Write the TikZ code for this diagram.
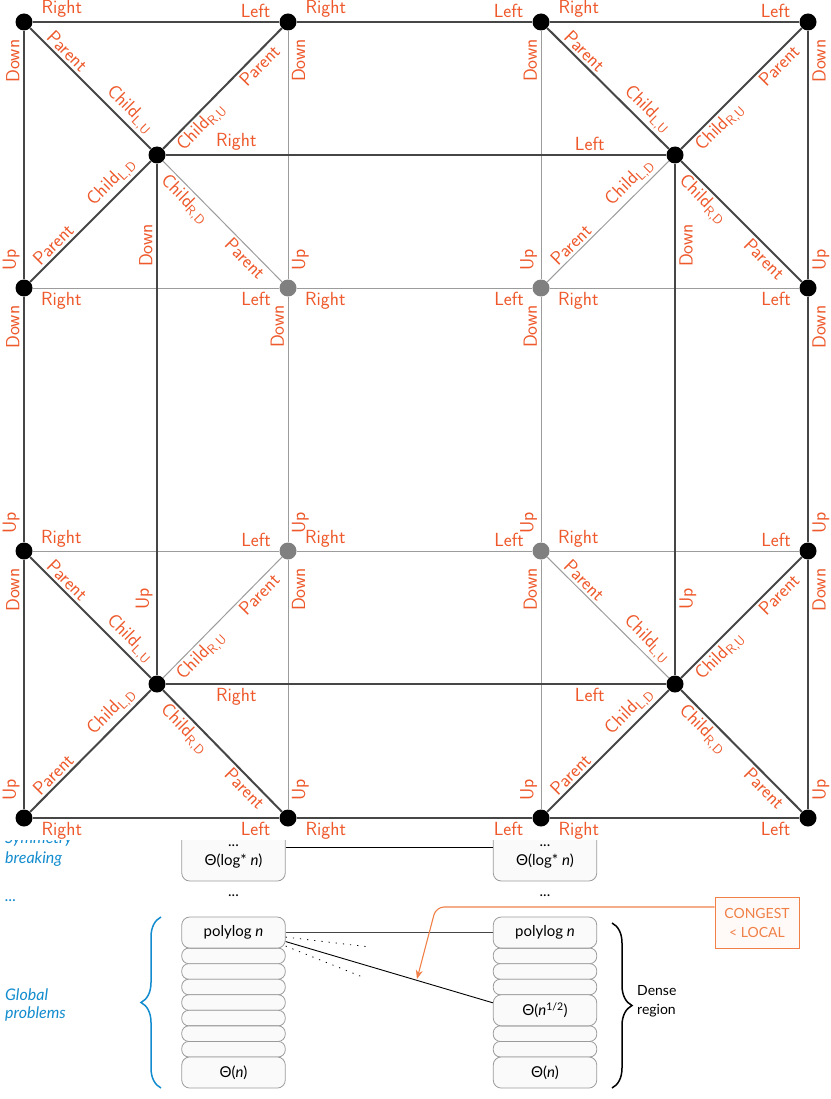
\documentclass[tikz,border=0pt]{standalone}
\usepackage{fontspec}
\newfontfamily\chartfont{Lato}
\usepackage{tikz}
\usetikzlibrary{arrows.meta,decorations.pathreplacing}

\definecolor{labred}{RGB}{238,88,42}
\definecolor{edgedark}{RGB}{70,70,70}
\definecolor{edgelight}{RGB}{156,156,156}
\definecolor{vgray}{RGB}{128,128,128}
\definecolor{probblue}{RGB}{18,140,206}
\definecolor{congorange}{RGB}{240,128,72}
\definecolor{congfill}{RGB}{255,250,247}
\definecolor{boxline}{RGB}{155,155,155}
\definecolor{boxfill}{RGB}{250,250,250}

\tikzset{
  vtx/.style={circle, fill=black, minimum size=17pt, inner sep=0pt},
  gvtx/.style={vtx, fill=vgray},
  dk/.style={draw=edgedark, line width=2pt},
  lt/.style={draw=edgelight, line width=1pt},
  lab/.style={text=labred, font=\sffamily\fontsize{19}{19}\selectfont,
              inner xsep=8pt, inner ysep=3.5pt},
  vlab/.style={lab, rotate=90},
  slab/.style={lab, sloped, inner xsep=2pt, inner ysep=2.5pt},
  grp/.style={text=probblue, font=\chartfont\itshape\fontsize{16}{19}\selectfont,
              anchor=base west, inner sep=0pt},
  bx/.style={draw=boxline, fill=boxfill, rounded corners=8pt, line width=0.8pt,
             minimum width=103.5pt, minimum height=31.1pt, inner sep=0pt,
             align=center, font=\chartfont\fontsize{15}{19}\selectfont},
  sbx/.style={bx, minimum height=15.55pt, rounded corners=7pt},
  txt/.style={font=\chartfont\fontsize{15}{19}\selectfont, inner sep=0pt},
  cg/.style={draw=congorange, fill=congfill, text=congorange, line width=1pt,
             minimum width=84pt, minimum height=51pt, inner sep=0pt, align=center,
             font=\chartfont\fontsize{14}{19}\selectfont},
  dotline/.style={black, line width=0.8pt, dash pattern=on 1.2pt off 6pt},
  brc/.style={line width=1.5pt, decorate, decoration={brace, amplitude=20pt}},
}

\begin{document}
\begin{tikzpicture}[x=1pt, y=-1pt]
  \useasboundingbox (0,0) rectangle (830,1099);

  % lower chart, half hidden behind the grid
  \node[grp] (sym1)  at (5, 843) {Symmetry};
  \node[grp] (sym2)  at (5, 863) {breaking};
  \node[grp] (gdots) at (5, 901) {...};
  \node[grp] (glob1) at (5,1000) {Global};
  \node[grp] (glob2) at (5,1018) {problems};

  \node[bx, minimum height=49pt] (lstar) at (233.5,856.5) {...\\Θ(log* \textit{n})};
  \node[bx, minimum height=49pt] (rstar) at (545,856.5) {...\\Θ(log* \textit{n})};
  \node[txt] (ldots) at (233.5,896) {...};
  \node[txt] (rdots) at (545,896) {...};

  \foreach \k in {1,...,7}
    \node[sbx] (lsm\k) at (233.5,{917+15.55*(1.5+\k)}) {};
  \foreach \k in {1,2,3,6,7}
    \node[sbx] (rsm\k) at (545,{917+15.55*(1.5+\k)}) {};
  \node[bx] (lpoly) at (233.5,932.55) {polylog \textit{n}};
  \node[bx] (ln)    at (233.5,1072.5) {Θ(\textit{n})};
  \node[bx] (rpoly) at (545,932.55) {polylog \textit{n}};
  \node[bx] (rhalf) at (545,1010.3) {Θ(\textit{n}\textsuperscript{1/2})};
  \node[bx] (rn)    at (545,1072.5) {Θ(\textit{n})};

  \draw[black, line width=0.8pt] ([yshift=34pt]lstar.south east) -- ([yshift=34pt]rstar.south west);
  \draw[edgedark, line width=1pt] (lpoly.east) -- (rpoly.west);
  \draw[black, line width=0.9pt] ([yshift=-9pt]lpoly.east) -- ([yshift=7.5pt]rhalf.west);
  \coordinate (dotA) at (370,947);
  \coordinate (dotB) at (365,978);
  \draw[dotline] ([yshift=-4.5pt]lpoly.east) -- (dotA);
  \draw[dotline] ([yshift=-13.5pt]lpoly.east) -- (dotB);

  \draw[brc, probblue] (161,1088) -- (161,917);
  \draw[brc, black] (612,923) -- (612,1088);
  \node[txt, anchor=west, align=left, font=\chartfont\fontsize{14}{18.5}\selectfont]
    (dense) at (637,1001) {Dense\\region};

  \node[cg] (cong) at (757,922.5) {CONGEST\\< LOCAL};
  \coordinate (bend) at (436,907);
  \coordinate (hit) at (417,979);
  \draw[congorange, line width=1.1pt, rounded corners=8pt, -{Stealth[length=9pt, width=7pt]}]
    ([yshift=15.5pt]cong.west) -- (bend) -- (hit);

  \fill[white] (0,0) rectangle (830,840);

  % grid nodes
  \node[vtx]  (o11) at ( 24, 22) {};
  \node[vtx]  (o21) at (288, 22) {};
  \node[vtx]  (o31) at (541, 22) {};
  \node[vtx]  (o41) at (808, 22) {};
  \node[vtx]  (o12) at ( 24,288) {};
  \node[gvtx] (o22) at (288,288) {};
  \node[gvtx] (o32) at (541,288) {};
  \node[vtx]  (o42) at (808,288) {};
  \node[vtx]  (o13) at ( 24,551) {};
  \node[gvtx] (o23) at (288,551) {};
  \node[gvtx] (o33) at (541,551) {};
  \node[vtx]  (o43) at (808,551) {};
  \node[vtx]  (o14) at ( 24,818) {};
  \node[vtx]  (o24) at (288,818) {};
  \node[vtx]  (o34) at (541,818) {};
  \node[vtx]  (o44) at (808,818) {};

  \node[vtx] (c11) at (157,155) {};
  \node[vtx] (c21) at (675,155) {};
  \node[vtx] (c12) at (157,684) {};
  \node[vtx] (c22) at (675,684) {};

  % outer rows and columns
  \foreach \j/\st/\aw/\ae in {1/dk/south west/south east, 2/lt/north west/north east,
                               3/lt/south west/south east, 4/dk/north west/north east}
    \foreach \i/\k in {1/2, 2/3, 3/4}
      \draw[\st] (o\i\j) -- node[lab, pos=0, anchor=\aw] {Right}
                            node[lab, pos=1, anchor=\ae] {Left} (o\k\j);

  \foreach \i/\j/\k/\st/\ad/\au in {
      1/1/2/dk/south east/south west, 1/2/3/dk/south east/south west, 1/3/4/dk/south east/south west,
      2/1/2/lt/north east/north west, 2/2/3/lt/south east/north west, 2/3/4/lt/north east/north west,
      3/1/2/lt/south east/south west, 3/2/3/lt/south east/south west, 3/3/4/lt/south east/south west,
      4/1/2/dk/north east/north west, 4/2/3/dk/north east/north west, 4/3/4/dk/north east/north west}
    \draw[\st] (o\i\j) -- node[vlab, pos=0, anchor=\ad] {Down}
                          node[vlab, pos=1, anchor=\au] {Up} (o\i\k);

  % inner square
  \draw[dk] (c11) -- node[lab, pos=.141, above] {Right} node[lab, pos=.847, above] {Left} (c21);
  \draw[dk] (c12) -- node[lab, pos=.141, below] {Right} node[lab, pos=.847, below] {Left} (c22);
  \draw[dk] (c11) -- node[vlab, pos=.16, anchor=south] {Down} node[vlab, pos=.85, anchor=south] {Up} (c12);
  \draw[dk] (c21) -- node[vlab, pos=.16, anchor=north] {Down} node[vlab, pos=.85, anchor=north] {Up} (c22);

  % diagonals, upper left
  \draw[dk] (o11) -- node[slab, near start, above] {Parent} node[slab, near end, above] {Child\textsubscript{L,U}} (c11);
  \draw[dk] (c11) -- node[slab, near start, below] {Child\textsubscript{R,U}} node[slab, near end, below] {Parent} (o21);
  \draw[lt] (c11) -- node[slab, near start, below] {Child\textsubscript{R,D}} node[slab, near end, below] {Parent} (o22);
  \draw[dk] (o12) -- node[slab, near start, above] {Parent} node[slab, near end, above] {Child\textsubscript{L,D}} (c11);

  % diagonals, upper right
  \draw[dk] (o31) -- node[slab, near start, above] {Parent} node[slab, near end, above] {Child\textsubscript{L,U}} (c21);
  \draw[dk] (c21) -- node[slab, near start, below] {Child\textsubscript{R,U}} node[slab, near end, below] {Parent} (o41);
  \draw[dk] (c21) -- node[slab, near start, below] {Child\textsubscript{R,D}} node[slab, near end, below] {Parent} (o42);
  \draw[lt] (o32) -- node[slab, near start, above] {Parent} node[slab, near end, above] {Child\textsubscript{L,D}} (c21);

  % diagonals, lower left
  \draw[dk] (o13) -- node[slab, near start, above] {Parent} node[slab, near end, above] {Child\textsubscript{L,U}} (c12);
  \draw[lt] (c12) -- node[slab, near start, below] {Child\textsubscript{R,U}} node[slab, near end, below] {Parent} (o23);
  \draw[dk] (c12) -- node[slab, near start, below] {Child\textsubscript{R,D}} node[slab, near end, below] {Parent} (o24);
  \draw[dk] (o14) -- node[slab, near start, above] {Parent} node[slab, near end, above] {Child\textsubscript{L,D}} (c12);

  % diagonals, lower right
  \draw[lt] (o33) -- node[slab, near start, above] {Parent} node[slab, near end, above] {Child\textsubscript{L,U}} (c22);
  \draw[dk] (c22) -- node[slab, near start, below] {Child\textsubscript{R,U}} node[slab, near end, below] {Parent} (o43);
  \draw[dk] (c22) -- node[slab, near start, below] {Child\textsubscript{R,D}} node[slab, near end, below] {Parent} (o44);
  \draw[dk] (o34) -- node[slab, near start, above] {Parent} node[slab, near end, above] {Child\textsubscript{L,D}} (c22);
\end{tikzpicture}
\end{document}
